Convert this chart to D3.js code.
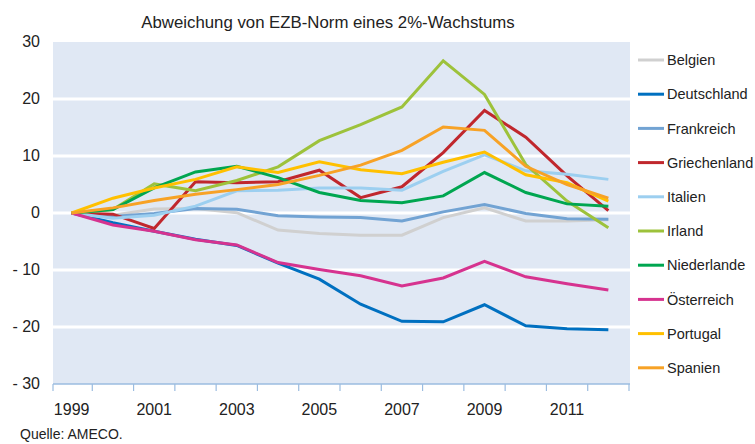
<!DOCTYPE html>
<html>
<head>
<meta charset="utf-8">
<script src="https://cdnjs.cloudflare.com/ajax/libs/d3/7.8.5/d3.min.js"></script>
<style>
  body { margin: 0; background: #fff; }
  svg text { font-family: "Liberation Sans", Arial, sans-serif; fill: #222; }
</style>
</head>
<body>
<div id="chart"></div>
<script>
var years = [1999, 2000, 2001, 2002, 2003, 2004, 2005, 2006, 2007, 2008, 2009, 2010, 2011, 2012];
var yearLabels = ["1999", "2001", "2003", "2005", "2007", "2009", "2011"];
var yTicks = [30, 20, 10, 0, -10, -20, -30];
var countries = ["Belgien", "Deutschland", "Frankreich", "Griechenland", "Italien", "Irland", "Niederlande", "Österreich", "Portugal", "Spanien"];
var colors = ["#d0d0d0", "#0070c0", "#72a3d3", "#c0272d", "#9ccff0", "#9dc23b", "#00a650", "#d6338f", "#ffc000", "#f7a226"];

var belgien      = [0, -0.4, 0.7, 0.8, 0.05, -3.0, -3.6, -3.9, -3.9, -0.8, 0.9, -1.4, -1.4, -1.2];
var deutschland  = [0, -1.7, -3.2, -4.6, -5.7, -8.8, -11.6, -16.0, -19.0, -19.1, -16.1, -19.8, -20.3, -20.5];
var frankreich   = [0, -0.6, -0.1, 0.8, 0.65, -0.5, -0.7, -0.8, -1.4, 0.2, 1.5, -0.1, -1.0, -1.1];
var griechenland = [0, -0.2, -2.7, 5.5, 5.3, 5.5, 7.5, 2.7, 4.6, 10.6, 18.0, 13.3, 6.5, 0.4];
var italien      = [0, -0.9, -0.4, 1.2, 3.9, 4.0, 4.4, 4.4, 4.0, 7.3, 10.2, 7.4, 6.8, 5.9];
var irland       = [0, 0.6, 5.1, 3.9, 5.7, 8.1, 12.7, 15.5, 18.6, 26.7, 20.8, 8.5, 2.1, -2.6];
var niederlande  = [0, 0.6, 4.4, 7.2, 8.2, 6.2, 3.6, 2.2, 1.8, 3.0, 7.1, 3.6, 1.6, 1.2];
var oesterreich  = [0, -2.1, -3.2, -4.7, -5.6, -8.7, -9.9, -11.0, -12.8, -11.4, -8.5, -11.2, -12.4, -13.5];
var portugal     = [0, 2.6, 4.4, 5.9, 8.1, 7.1, 9.0, 7.6, 6.9, 8.9, 10.7, 6.7, 5.3, 2.1];
var spanien      = [0, 0.9, 2.2, 3.3, 4.1, 5.0, 6.6, 8.4, 11.0, 15.1, 14.5, 8.2, 5.0, 2.6];

var seriesValues = [belgien, deutschland, frankreich, griechenland, italien, irland, niederlande, oesterreich, portugal, spanien];

var width = 755, height = 444;
var plotLeft = 53, plotRight = 630, plotTop = 42, plotBottom = 384;

var svg = d3.select("#chart").append("svg")
  .attr("width", width)
  .attr("height", height);

var x = d3.scaleBand().domain(years).range([51, 629]).paddingInner(0).paddingOuter(0);
var y = d3.scaleLinear().domain([-30, 30]).range([plotBottom, plotTop]);

// plot background
svg.append("rect")
  .attr("x", plotLeft)
  .attr("y", plotTop)
  .attr("width", plotRight - plotLeft)
  .attr("height", plotBottom - plotTop)
  .attr("fill", "#e0e8f4");

// grid lines
svg.append("g")
  .selectAll("line")
  .data(yTicks.filter(function(d) { return d > -30 && d < 30; }))
  .join("line")
  .attr("x1", plotLeft)
  .attr("x2", plotRight)
  .attr("y1", d => y(d))
  .attr("y2", d => y(d))
  .attr("stroke", "#fff")
  .attr("stroke-width", 3);

// y labels
svg.append("g")
  .selectAll("text")
  .data(yTicks)
  .join("text")
  .attr("x", 40)
  .attr("y", d => y(d))
  .attr("dy", "0.33em")
  .attr("text-anchor", "end")
  .style("font-size", "16px")
  .text(d => d < 0 ? "- " + Math.abs(d) : d);

// x axis line + ticks
svg.append("line")
  .attr("x1", plotLeft)
  .attr("x2", plotRight)
  .attr("y1", plotBottom)
  .attr("y2", plotBottom)
  .attr("stroke", "#9bbce0")
  .attr("stroke-width", 1.5);

var tickPos = years.map(d => x(d)).concat([x(2012) + x.bandwidth()]);
tickPos[0] = plotLeft;
svg.append("g")
  .selectAll("line")
  .data(tickPos)
  .join("line")
  .attr("x1", d => d)
  .attr("x2", d => d)
  .attr("y1", plotBottom)
  .attr("y2", plotBottom + 7)
  .attr("stroke", "#9bbce0")
  .attr("stroke-width", 1.2);

svg.append("g")
  .selectAll("text")
  .data(yearLabels)
  .join("text")
  .attr("x", d => x(+d) + x.bandwidth() / 2)
  .attr("y", 415)
  .attr("text-anchor", "middle")
  .style("font-size", "16px")
  .text(d => d);

// lines
var line = d3.line()
  .x((d, i) => x(years[i]) + x.bandwidth() / 2)
  .y(d => y(d));

svg.append("g")
  .selectAll("path")
  .data(seriesValues)
  .join("path")
  .attr("d", d => line(d))
  .attr("fill", "none")
  .attr("stroke", (d, i) => colors[i])
  .attr("stroke-width", 3)
  .attr("stroke-linejoin", "miter");

// title
svg.append("text")
  .attr("x", 328)
  .attr("y", 28)
  .attr("text-anchor", "middle")
  .style("font-size", "16.8px")
  .text("Abweichung von EZB-Norm eines 2%-Wachstums");

// legend
var legend = svg.append("g")
  .selectAll("g")
  .data(countries)
  .join("g")
  .attr("transform", (d, i) => "translate(638," + (60 + i * 34.2) + ")");

legend.append("line")
  .attr("x1", 0)
  .attr("x2", 26)
  .attr("stroke", (d, i) => colors[i])
  .attr("stroke-width", 3);

legend.append("text")
  .attr("x", 29)
  .attr("dy", "0.36em")
  .style("font-size", "14.5px")
  .text(d => d);

// source
svg.append("text")
  .attr("x", 20)
  .attr("y", 439)
  .style("font-size", "14px")
  .text("Quelle: AMECO.");
</script>
</body>
</html>
